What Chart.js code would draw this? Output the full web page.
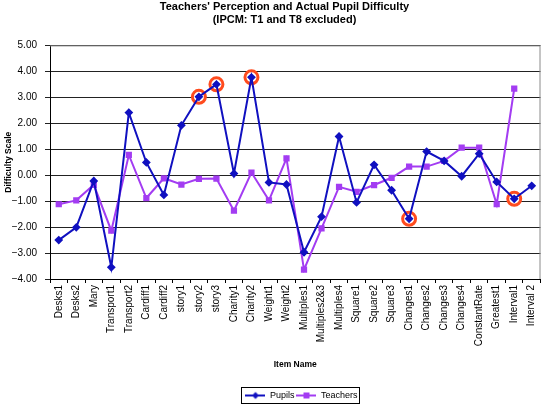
<!DOCTYPE html>
<html>
<head>
<meta charset="utf-8">
<script src="https://cdn.jsdelivr.net/npm/chart.js@4/dist/chart.umd.min.js"></script>
<style>
  html, body { margin: 0; padding: 0; background: #fff; }
  #wrap { width: 550px; height: 407px; position: relative; }
</style>
</head>
<body>
<div id="wrap"><canvas id="chart"></canvas></div>
<script>
// item names along the x axis
const categories = ['Desks1','Desks2','Mary','Transport1','Transport2','Cardiff1','Cardiff2','story1','story2','story3',
  'Charity1','Charity2','Weight1','Weight2','Multiples1','Multiples2&3','Multiples4','Square1','Square2','Square3',
  'Changes1','Changes2','Changes3','Changes4','ConstantRate','Greatest1','Interval1','Interval 2'];

// difficulty values
const pupils   = [-2.50,-2.01,-0.22,-3.55,2.41,0.49,-0.76,1.92,3.02,3.50,
                  0.06,3.77,-0.28,-0.36,-2.97,-1.60,1.49,-1.05,0.40,-0.58,
                  -1.68,0.91,0.55,-0.04,0.83,-0.26,-0.91,-0.41];
const teachers = [-1.12,-0.97,-0.37,-2.14,0.78,-0.88,-0.12,-0.36,-0.14,-0.13,
                  -1.37,0.10,-0.97,0.65,-3.64,-2.05,-0.45,-0.64,-0.38,-0.10,
                  0.33,0.33,0.55,1.06,1.06,-1.12,3.33,null];

// pupil items marked with a red ring
const circled = ['story2','story3','Charity2','Changes1','Interval1'];

// y axis range
const yMin = -4, yMax = 5, yStep = 1;

const PUPIL_COL   = '#1010c0';
const TEACHER_COL = '#a33cf2';
const RING_COL    = '#ff4b1e';

// small line+marker image for the legend (Excel style)
function legendIcon(color, style) {
  const c = document.createElement('canvas');
  c.width = 20; c.height = 10;
  const g = c.getContext('2d');
  g.strokeStyle = color; g.lineWidth = 2;
  g.beginPath(); g.moveTo(0, 5); g.lineTo(20, 5); g.stroke();
  g.fillStyle = color;
  if (style === 'rectRot') {
    g.beginPath(); g.moveTo(10, 1.5); g.lineTo(13.5, 5); g.lineTo(10, 8.5); g.lineTo(6.5, 5); g.closePath(); g.fill();
  } else {
    g.fillRect(7, 2, 6, 6);
  }
  return c;
}
const icons = [legendIcon(PUPIL_COL, 'rectRot'), legendIcon(TEACHER_COL, 'rect')];

// grey frame round the plot, black box round the legend,
// title and legend nudged over to sit where the original has them
const framePlugin = {
  id: 'frame',
  afterLayout(chart) {
    if (chart.titleBlock) { chart.titleBlock.left += 10; chart.titleBlock.right += 10; }
    if (chart.legend) {
      chart.legend.left += 27; chart.legend.right += 27;
      chart.legend.top += 3; chart.legend.bottom += 3;
    }
  },
  beforeDatasetsDraw(chart) {
    const { ctx, chartArea: a } = chart;
    ctx.save();
    ctx.strokeStyle = '#8a8a8a';
    ctx.lineWidth = 1;
    ctx.beginPath();
    ctx.moveTo(a.left, a.top + 0.5); ctx.lineTo(a.right - 0.5, a.top + 0.5); ctx.lineTo(a.right - 0.5, a.bottom);
    ctx.stroke();
    ctx.restore();
  },
  afterDraw(chart) {
    const boxes = chart.legend && chart.legend.legendHitBoxes;
    if (!boxes || !boxes.length) return;
    let l = Infinity, t = Infinity, r = -Infinity, b = -Infinity;
    boxes.forEach(h => {
      l = Math.min(l, h.left); t = Math.min(t, h.top);
      r = Math.max(r, h.left + h.width); b = Math.max(b, h.top + h.height);
    });
    const ctx = chart.ctx;
    ctx.save();
    ctx.strokeStyle = '#000';
    ctx.lineWidth = 1;
    ctx.strokeRect(Math.round(l) - 3.5, Math.round(t) - 3.5, Math.round(r - l) + 6, Math.round(b - t) + 7);
    ctx.restore();
  }
};

Chart.defaults.font.family = '"Liberation Sans", Arial, sans-serif';
Chart.defaults.color = '#000';

new Chart(document.getElementById('chart'), {
  type: 'line',
  data: {
    labels: categories,
    datasets: [
      {
        label: 'Pupils',
        data: pupils,
        borderColor: PUPIL_COL,
        backgroundColor: PUPIL_COL,
        borderWidth: 2,
        pointStyle: 'rectRot',
        pointRadius: 3,
        tension: 0,
        order: 1
      },
      {
        label: 'Teachers',
        data: teachers,
        borderColor: TEACHER_COL,
        backgroundColor: TEACHER_COL,
        borderWidth: 2,
        pointStyle: 'rect',
        pointRadius: 3,
        tension: 0,
        spanGaps: false,
        order: 2
      },
      {
        label: 'circled',
        data: categories.map((c, i) => circled.includes(c) ? pupils[i] : null),
        showLine: false,
        borderColor: RING_COL,
        backgroundColor: '#ffffff',
        borderWidth: 3,
        pointStyle: 'circle',
        pointRadius: 6.5,
        order: 3
      }
    ]
  },
  options: {
    responsive: true,
    maintainAspectRatio: false,
    animation: false,
    layout: { padding: { top: 0, right: 1, bottom: 0, left: 0 } },
    plugins: {
      title: {
        display: true,
        text: ["Teachers' Perception and Actual Pupil Difficulty", '(IPCM: T1 and T8 excluded)'],
        font: { size: 11, weight: 'bold' },
        color: '#000',
        padding: { top: 0, bottom: 19 }
      },
      legend: {
        position: 'bottom',
        labels: {
          usePointStyle: true,
          pointStyleWidth: 20,
          padding: 2,
          font: { size: 9 },
          color: '#000',
          filter: item => item.datasetIndex < 2,
          generateLabels(chart) {
            const items = Chart.defaults.plugins.legend.labels.generateLabels(chart);
            items.forEach(it => { if (it.datasetIndex < 2) it.pointStyle = icons[it.datasetIndex]; });
            return items;
          }
        }
      },
      tooltip: { enabled: false }
    },
    scales: {
      x: {
        offset: true,
        grid: { display: true, drawOnChartArea: false, drawTicks: true, tickLength: 4, color: '#000', offset: true },
        border: { display: true, color: '#000', width: 1 },
        ticks: { autoSkip: false, minRotation: 90, maxRotation: 90, font: { size: 10 }, color: '#000', padding: 2 },
        title: { display: true, text: 'Item Name', font: { size: 8.5, weight: 'bold' }, color: '#000', padding: { top: 4, bottom: 16 } },
        afterFit(s) { s.height = 107; }
      },
      y: {
        min: yMin,
        max: yMax,
        grid: { color: '#222', lineWidth: 1, drawTicks: true, tickLength: 5 },
        border: { display: true, color: '#000', width: 1 },
        ticks: {
          stepSize: yStep,
          font: { size: 10 },
          color: '#000',
          padding: 8,
          callback: v => (v < 0 ? '\u2212' : '') + Math.abs(v).toFixed(2)
        },
        title: { display: true, text: 'Difficulty Scale', font: { size: 8.5, weight: 'bold' }, color: '#000', padding: 4 },
        afterFit(s) { s.width = 50; }
      }
    }
  },
  plugins: [framePlugin]
});
</script>
</body>
</html>
